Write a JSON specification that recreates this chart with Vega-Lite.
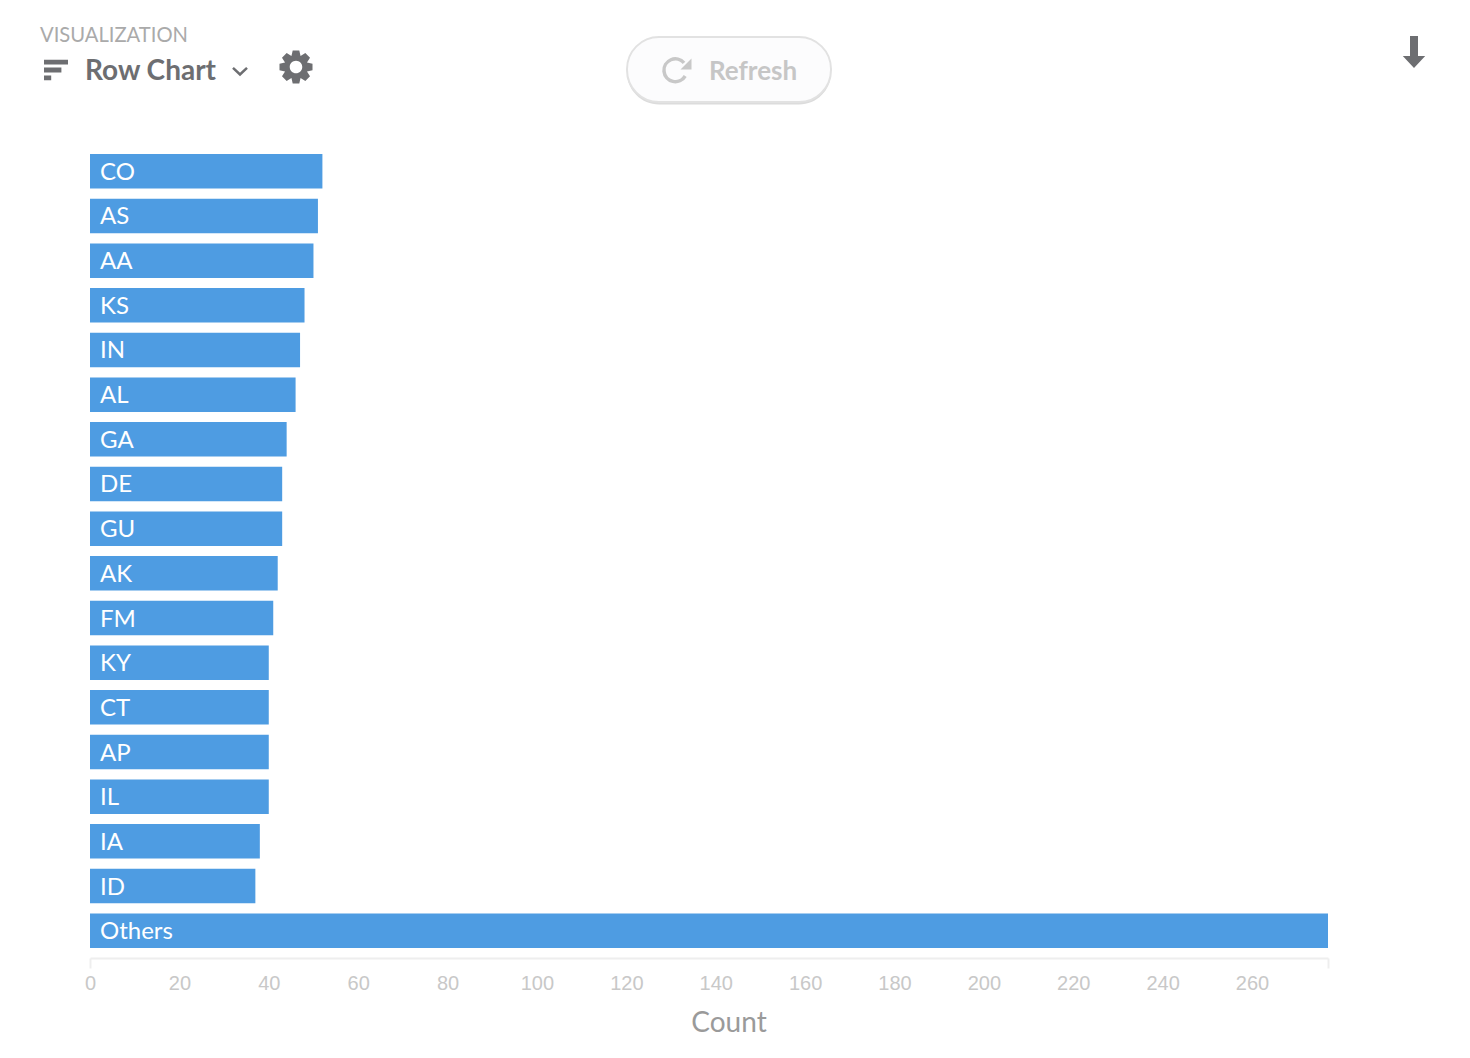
{
  "$schema": "https://vega.github.io/schema/vega-lite/v6.json",
  "width": 1238,
  "height": 804,
  "autosize": "none",
  "padding": {"left": 90, "top": 149, "right": 142, "bottom": 105},
  "background": "white",
  "config": {"view": {"stroke": null}},
  "data": {
    "values": [
      {"state": "CO", "count": 52},
      {"state": "AS", "count": 51},
      {"state": "AA", "count": 50},
      {"state": "KS", "count": 48},
      {"state": "IN", "count": 47},
      {"state": "AL", "count": 46},
      {"state": "GA", "count": 44},
      {"state": "DE", "count": 43},
      {"state": "GU", "count": 43},
      {"state": "AK", "count": 42},
      {"state": "FM", "count": 41},
      {"state": "KY", "count": 40},
      {"state": "CT", "count": 40},
      {"state": "AP", "count": 40},
      {"state": "IL", "count": 40},
      {"state": "IA", "count": 38},
      {"state": "ID", "count": 37},
      {"state": "Others", "count": 277}
    ]
  },
  "layer": [
    {
      "mark": {"type": "bar", "color": "#4e9ce2", "clip": false},
      "encoding": {
        "y": {
          "field": "state",
          "type": "nominal",
          "sort": null,
          "axis": null,
          "scale": {"paddingInner": 0.227, "paddingOuter": 0.113}
        },
        "x": {
          "field": "count",
          "type": "quantitative",
          "scale": {"domain": [0, 277], "nice": false},
          "axis": {
            "title": "Count",
            "titleFont": "Lato",
            "titleFontSize": 28,
            "titleFontWeight": "normal",
            "titleColor": "#9a9a9a",
            "titleX": 638.5,
            "titleY": 73,
            "titleBaseline": "alphabetic",
            "values": [0, 20, 40, 60, 80, 100, 120, 140, 160, 180, 200, 220, 240, 260, 277],
            "labelExpr": "datum.value == 277 ? '' : datum.label",
            "labelFont": "Liberation Sans",
            "labelFontSize": 20,
            "labelColor": "#c8c8c8",
            "labelPadding": 5,
            "labelFlush": false,
            "labelBound": false,
            "labelOverlap": false,
            "grid": false,
            "offset": 5,
            "domainColor": "#eeeeee",
            "domainWidth": 2,
            "tickColor": "#eeeeee",
            "tickWidth": 2,
            "tickSize": 10,
            "tickOpacity": {"expr": "datum.value == 0 || datum.value == 277 ? 1 : 0"}
          }
        }
      }
    },
    {
      "mark": {"type": "text", "color": "white", "font": "Lato", "fontSize": 24, "align": "left", "baseline": "middle", "dx": 10, "dy": 1.5},
      "encoding": {
        "y": {"field": "state", "type": "nominal", "sort": null},
        "x": {"datum": 0},
        "text": {"field": "state"}
      }
    },
    {
      "data": {"values": [{"label": "VISUALIZATION"}]},
      "mark": {"type": "text", "x": -50, "y": -107, "align": "left", "baseline": "alphabetic", "font": "Lato", "fontSize": 20.2, "color": "#aaaaaa"},
      "encoding": {"text": {"field": "label"}}
    },
    {
      "data": {"values": [{"label": "Row Chart"}]},
      "mark": {"type": "text", "x": -5, "y": -69, "align": "left", "baseline": "alphabetic", "font": "Lato", "fontSize": 28, "fontWeight": "bold", "color": "#6d6e71"},
      "encoding": {"text": {"field": "label"}}
    },
    {
      "data": {"values": [{"label": "row chart icon"}]},
      "mark": {"type": "point", "x": -34, "y": -79, "size": 576, "filled": true, "opacity": 1, "color": "#6d6e71", "shape": "M-1,-0.85H1V-0.45H-1ZM-1,-0.2H0.45V0.2H-1ZM-1,0.45H-0.4V0.85H-1Z"},
      "encoding": {}
    },
    {
      "data": {"values": [{"label": "chevron"}]},
      "mark": {"type": "point", "x": 150, "y": -78, "size": 196, "filled": false, "opacity": 1, "color": "#6d6e71", "strokeWidth": 2.5, "shape": "M-1,-0.45L0,0.5L1,-0.45"},
      "encoding": {}
    },
    {
      "data": {"values": [{"label": "gear icon"}]},
      "mark": {"type": "point", "x": 206, "y": -82, "size": 1089, "filled": true, "opacity": 1, "color": "#6d6e71", "shape": "M-0.2,-1L0.2,-1L0.276,-0.665L0.566,-0.849L0.849,-0.566L0.665,-0.276L1,-0.2L1,0.2L0.665,0.276L0.849,0.566L0.566,0.849L0.276,0.665L0.2,1L-0.2,1L-0.276,0.665L-0.566,0.849L-0.849,0.566L-0.665,0.276L-1,0.2L-1,-0.2L-0.665,-0.276L-0.849,-0.566L-0.566,-0.849L-0.276,-0.665ZM0.38,0A0.38,0.38 0 1 0 -0.38,0A0.38,0.38 0 1 0 0.38,0Z"},
      "encoding": {}
    },
    {
      "data": {"values": [{"label": "button shadow"}]},
      "mark": {"type": "rect", "x": 537, "x2": 741, "y": -110, "y2": -44.5, "cornerRadius": 32, "fill": "#dcdcdc"},
      "encoding": {}
    },
    {
      "data": {"values": [{"label": "button"}]},
      "mark": {"type": "rect", "x": 537, "x2": 741, "y": -112, "y2": -47, "cornerRadius": 32, "fill": "#fcfcfd", "stroke": "#e2e2e2", "strokeWidth": 2},
      "encoding": {}
    },
    {
      "data": {"values": [{"label": "refresh arc"}]},
      "mark": {"type": "point", "x": 585, "y": -79, "size": 576, "filled": false, "opacity": 1, "color": "#c8c8c8", "strokeWidth": 3.5, "shape": "M0.75,-0.6A0.95,0.95 0 1 0 0.85,0.5"},
      "encoding": {}
    },
    {
      "data": {"values": [{"label": "refresh arrow head"}]},
      "mark": {"type": "point", "x": 596, "y": -85, "size": 120, "filled": true, "opacity": 1, "color": "#c8c8c8", "shape": "M1,-1V1H-1Z"},
      "encoding": {}
    },
    {
      "data": {"values": [{"label": "Refresh"}]},
      "mark": {"type": "text", "x": 619, "y": -69, "align": "left", "baseline": "alphabetic", "font": "Lato", "fontSize": 26, "fontWeight": "bold", "color": "#c6c6c6"},
      "encoding": {"text": {"field": "label"}}
    },
    {
      "data": {"values": [{"label": "download icon"}]},
      "mark": {"type": "point", "x": 1324, "y": -97, "size": 1024, "filled": true, "opacity": 1, "color": "#6d6e71", "shape": "M-0.25,-1H0.25V0.25H0.7L0,1L-0.7,0.25H-0.25Z"},
      "encoding": {}
    }
  ]
}
